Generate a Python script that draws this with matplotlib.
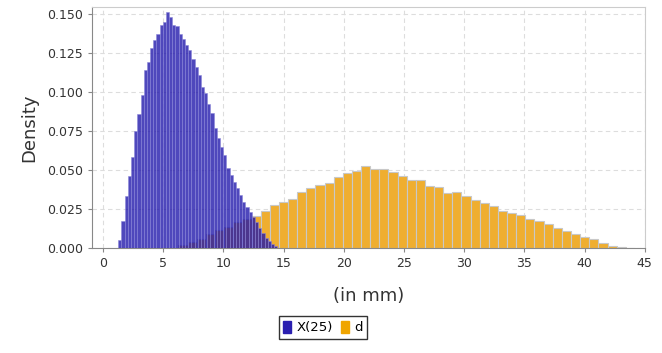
import numpy as np
import matplotlib
matplotlib.use("Agg")
import matplotlib.pyplot as plt
from matplotlib.patches import Patch

# X(25): 50 bins starting at 1.28, width 0.264
x25_start = 1.28
x25_width = 0.264
x25_density = [0.005, 0.017, 0.033, 0.046, 0.058, 0.075, 0.086, 0.098, 0.114, 0.119,
               0.128, 0.133, 0.137, 0.143, 0.145, 0.151, 0.148, 0.143, 0.142, 0.137,
               0.134, 0.130, 0.127, 0.121, 0.116, 0.111, 0.103, 0.099, 0.092, 0.0865,
               0.077, 0.0705, 0.065, 0.0596, 0.051, 0.0468, 0.0423, 0.0385, 0.034, 0.0297,
               0.0265, 0.023, 0.020, 0.0169, 0.0128, 0.0096, 0.0064, 0.0045, 0.0026, 0.0013]

# d: 50 bins starting at 6.28, width 0.758
d_start = 6.28
d_width = 0.758
d_density = [0.002, 0.004, 0.006, 0.0088, 0.0115, 0.0135, 0.0165, 0.0184, 0.0208, 0.0235,
             0.0276, 0.0293, 0.0313, 0.0357, 0.0387, 0.0406, 0.0417, 0.0453, 0.0479, 0.0496,
             0.0526, 0.0506, 0.0504, 0.0487, 0.0462, 0.0434, 0.0434, 0.0397, 0.0388, 0.0351,
             0.0358, 0.0333, 0.0308, 0.0286, 0.0269, 0.0239, 0.0222, 0.0212, 0.0186, 0.0173,
             0.0154, 0.0126, 0.0111, 0.0090, 0.0073, 0.0056, 0.0034, 0.0012, 0.0004, 0.0]

x_ticks = [0, 5, 10, 15, 20, 25, 30, 35, 40, 45]
y_ticks = [0.0, 0.025, 0.05, 0.075, 0.1, 0.125, 0.15]

fig = plt.figure(figsize=(6.62, 3.53), dpi=100)
ax = fig.add_axes([0.139, 0.2975, 0.835, 0.683])

d_left = d_start + d_width * np.arange(len(d_density))
x25_left = x25_start + x25_width * np.arange(len(x25_density))

ax.bar(d_left, d_density, width=d_width, align="edge", color="#EFAE30",
       edgecolor="#C8C8C8", linewidth=0.8, zorder=2)
ax.bar(x25_left, x25_density, width=x25_width, align="edge", color="#1E14AA",
       alpha=0.78, edgecolor="#8C88D8", linewidth=0.5, zorder=3)

ax.set_xlim(-0.9, 45)
ax.set_ylim(0, 0.1545)
ax.set_xticks(x_ticks)
ax.set_yticks(y_ticks)
ax.set_yticklabels(["%.3f" % v for v in y_ticks])
ax.tick_params(labelsize=9, colors="#333333", length=3, color="#888888")
ax.grid(True, linestyle=(0, (4, 3)), color="#DDDDDD", linewidth=0.8, zorder=0)
ax.set_axisbelow(True)
for side in ["top", "right"]:
    ax.spines[side].set_color("#CCCCCC")
for side in ["left", "bottom"]:
    ax.spines[side].set_color("#888888")

ax.set_ylabel("Density", fontsize=13, color="#333333", labelpad=6)
ax.set_xlabel("(in mm)", fontsize=13, color="#333333", labelpad=12)

handles = [Patch(facecolor="#2A1FB0", edgecolor="#2A1FB0", label="X(25)"),
           Patch(facecolor="#F0A500", edgecolor="#F0A500", label="d")]
leg = fig.legend(handles=handles, loc="center", bbox_to_anchor=(0.488, 0.072), ncol=2,
                 fontsize=9.5, frameon=True, fancybox=False, handlelength=0.6,
                 handleheight=1.0, handletextpad=0.4, columnspacing=0.6,
                 borderpad=0.35)
leg.get_frame().set_edgecolor("black")
leg.get_frame().set_linewidth(1.0)

fig.savefig("out.png", dpi=100)
